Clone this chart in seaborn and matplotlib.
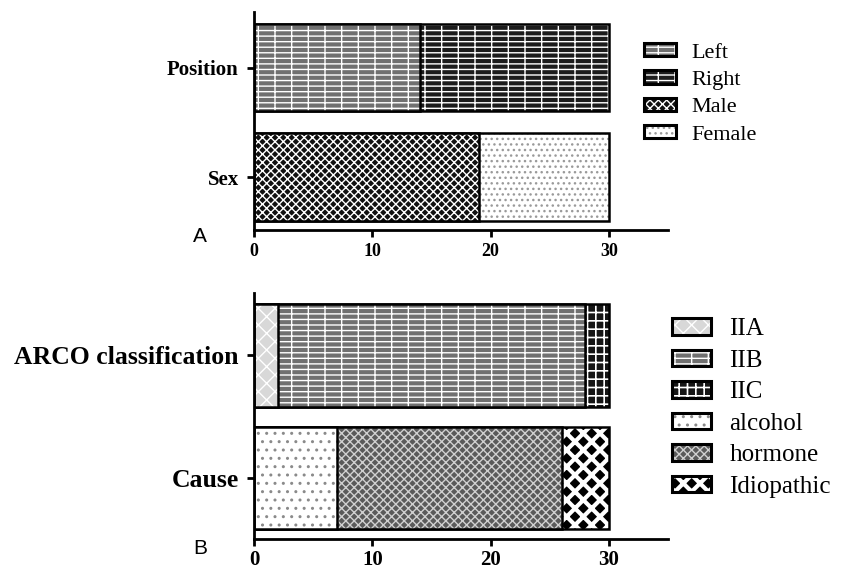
import pandas as pd
import seaborn as sns
import matplotlib.pyplot as plt
from matplotlib.colors import to_rgba

# panel A
a_categories = ["Position", "Sex"]
position_labels = ["Left", "Right"]
position_values = [14, 16]
sex_labels = ["Male", "Female"]
sex_values = [19, 11]

# panel B
b_categories = ["ARCO classification", "Cause"]
arco_labels = ["IIA", "IIB", "IIC"]
arco_values = [2, 26, 2]
cause_labels = ["alcohol", "hormone", "Idiopathic"]
cause_values = [7, 19, 4]

x_ticks = [0, 10, 20, 30]

# fill, hatch, hatch colour, hatch width for each segment
styles = {
    "Left": ("#707070", "--+", "white", 1.0),
    "Right": ("#1c1c1c", "--+", "white", 1.0),
    "Male": ("#111111", "xxxx", "white", 1.0),
    "Female": ("white", "...", "#9a9a9a", 1.0),
    "IIA": ("#d8d8d8", "xx", "white", 1.0),
    "IIB": ("#707070", "--+", "white", 1.0),
    "IIC": ("#151515", "++", "white", 1.2),
    "alcohol": ("white", "..", "#8a8a8a", 1.0),
    "hormone": ("#5a5a5a", "xxxx", "#d0d0d0", 1.0),
    "Idiopathic": ("black", "xx", "white", 3.0),
}

sns.set_style("ticks", {"axes.edgecolor": "black", "text.color": "black",
                        "xtick.color": "black", "ytick.color": "black"})
plt.rcParams["hatch.linewidth"] = 1.0
serif = ["Liberation Serif", "DejaVu Serif"]


def style_patch(p, name, lw=1.8):
    face, hatch, hcol, hlw = styles[name]
    p.set_facecolor(face)
    p.set_edgecolor("black")
    p.set_linewidth(lw)
    p.set_hatch(hatch)
    if hasattr(p, "set_hatchcolor"):
        p.set_hatchcolor(hcol)
    else:
        p._hatch_color = to_rgba(hcol)
    if hasattr(p, "set_hatch_linewidth"):
        p.set_hatch_linewidth(hlw)
    else:
        p._hatch_linewidth = hlw


def stacked(ax, categories, rows, bar_width):
    # rows: list of (labels, values) per category; draw from the far end back
    n_seg = len(rows[0][0])
    handles = {}
    for k in range(n_seg - 1, -1, -1):
        ends = [sum(vals[:k + 1]) for _, vals in rows]
        df = pd.DataFrame({"cat": categories, "end": ends})
        before = len(ax.patches)
        sns.barplot(data=df, x="end", y="cat", orient="h", ax=ax,
                    width=bar_width, errorbar=None)
        for p, (labels, _) in zip(ax.patches[before:], rows):
            style_patch(p, labels[k])
            handles[labels[k]] = p
    order = [lab for labels, _ in rows for lab in labels]
    return [handles[l] for l in order], order


fig = plt.figure(figsize=(8.45, 5.69), dpi=100)
ax_a = fig.add_axes([254 / 845, 1 - 230 / 569, 414 / 845, 218 / 569])
ax_b = fig.add_axes([254 / 845, 1 - 539 / 569, 414 / 845, 246 / 569])

h_a, l_a = stacked(ax_a, a_categories,
                   [(position_labels, position_values), (sex_labels, sex_values)], 0.8)
h_b, l_b = stacked(ax_b, b_categories,
                   [(arco_labels, arco_values), (cause_labels, cause_values)], 0.84)

ax_a.set_ylim(1.484, -0.507)
ax_b.set_ylim(1.498, -0.51)

for ax, xs, ys, xpad in [(ax_a, 13, 15, 4), (ax_b, 15, 18.5, 3)]:
    ax.set_xlim(0, 35)
    ax.set_xticks(x_ticks)
    ax.set_xlabel("")
    ax.set_ylabel("")
    sns.despine(ax=ax)
    for s in ["left", "bottom"]:
        ax.spines[s].set_linewidth(2)
    ax.tick_params(width=2, length=5, colors="black")
    ax.tick_params(axis="x", pad=xpad)
    ax.tick_params(axis="y", pad=6)
    for t in ax.get_xticklabels():
        t.set_fontfamily(serif)
        t.set_fontweight("bold")
        t.set_fontsize(xs)
    for t in ax.get_yticklabels():
        t.set_fontfamily(serif)
        t.set_fontweight("bold")
        t.set_fontsize(ys)

leg_a = fig.legend(h_a, l_a, loc="upper left", bbox_to_anchor=(644 / 845, 1 - 43 / 569),
                   frameon=False, borderpad=0, borderaxespad=0,
                   prop={"family": serif, "size": 16}, handlelength=1.45,
                   handleheight=0.55, handletextpad=0.7, labelspacing=0.35)
leg_b = fig.legend(h_b, l_b, loc="upper left", bbox_to_anchor=(672 / 845, 1 - 318 / 569),
                   frameon=False, borderpad=0, borderaxespad=0,
                   prop={"family": serif, "size": 18}, handlelength=1.55,
                   handleheight=0.64, handletextpad=0.75, labelspacing=0.38)
for leg, labels in [(leg_a, l_a), (leg_b, l_b)]:
    for p, name in zip(leg.legend_handles, labels):
        style_patch(p, name, lw=2.2)

fig.text(193 / 845, 1 - 237 / 569, "A", family=["Liberation Sans"], fontsize=15, va="center")
fig.text(193 / 845, 1 - 549 / 569, "B", family=["Liberation Sans"], fontsize=15, va="center")

fig.savefig("out.png", dpi=100)
